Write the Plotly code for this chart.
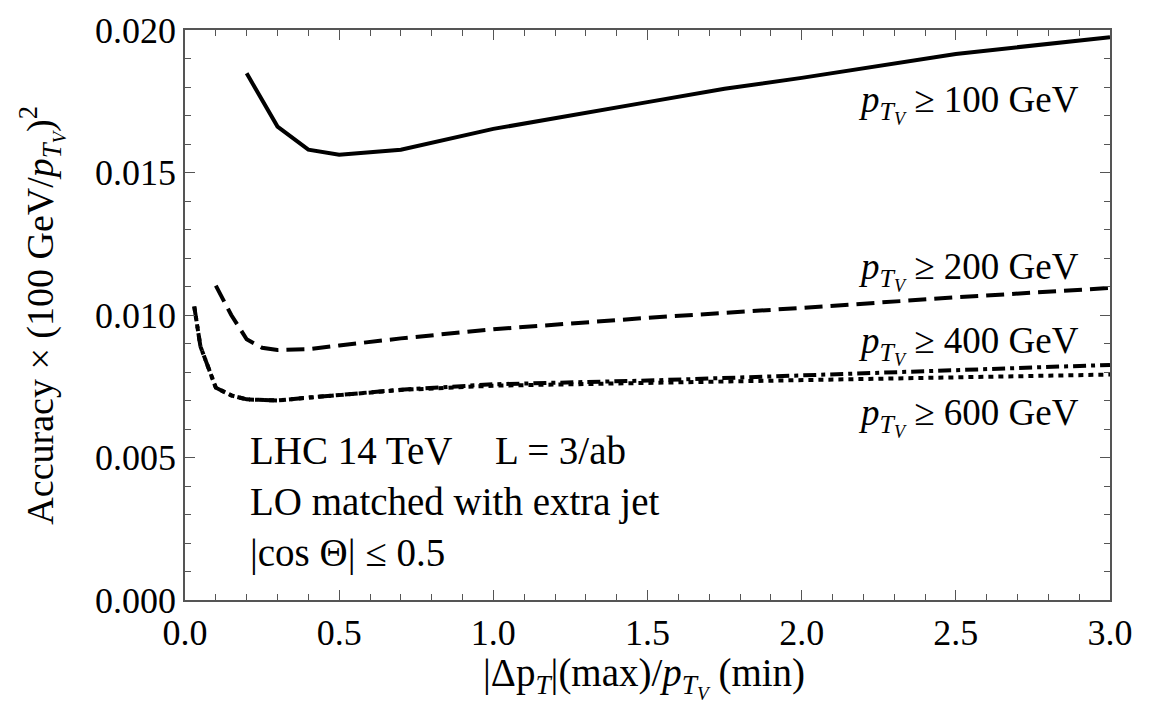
import plotly.graph_objects as go

# Data
x100 = [0.2, 0.3, 0.4, 0.5, 0.7, 1.0, 1.5, 1.75, 2.0, 2.5, 3.0]
y100 = [0.01848, 0.01661, 0.01580, 0.01562, 0.01580, 0.01653, 0.01747, 0.01794, 0.01832, 0.01916, 0.01975]

x200 = [0.1, 0.15, 0.2, 0.25, 0.3, 0.4, 0.5, 0.7, 1.0, 1.5, 2.0, 2.5, 3.0]
y200 = [0.01103, 0.01000, 0.00915, 0.00885, 0.00877, 0.00880, 0.00893, 0.00918, 0.00950, 0.00990, 0.01025, 0.01062, 0.01095]

x400 = [0.03, 0.05, 0.1, 0.15, 0.2, 0.3, 0.4, 0.5, 0.7, 1.0, 1.5, 2.0, 2.5, 3.0]
y400 = [0.01030, 0.00890, 0.00745, 0.00718, 0.00704, 0.00700, 0.00710, 0.00720, 0.00738, 0.00757, 0.00770, 0.00788, 0.00806, 0.00825]

x600 = [0.03, 0.05, 0.1, 0.15, 0.2, 0.3, 0.4, 0.5, 0.7, 1.0, 1.5, 2.0, 2.5, 3.0]
y600 = [0.01030, 0.00890, 0.00745, 0.00718, 0.00704, 0.00700, 0.00710, 0.00720, 0.00737, 0.00752, 0.00761, 0.00771, 0.00781, 0.00791]

series_labels = ["100", "200", "400", "600"]
x_ticks = [0.0, 0.5, 1.0, 1.5, 2.0, 2.5, 3.0]
y_ticks = [0.000, 0.005, 0.010, 0.015, 0.020]

FONT = "Liberation Serif, 'Times New Roman', Times, DejaVu Serif, serif"
PTV = "<i>p</i><sub><i>T</i><sub><i>V</i></sub></sub>"

fig = go.Figure()
styles = [
    (x100, y100, "solid"),
    (x200, y200, "18px,8px"),
    (x400, y400, "13px,5px,4px,5px"),
    (x600, y600, "5px,5px"),
]
for (xs, ys, dash), lab in zip(styles, series_labels):
    fig.add_trace(go.Scatter(x=xs, y=ys, mode="lines", name=lab,
                             line=dict(color="black", width=4, dash=dash),
                             showlegend=False))

axis_common = dict(
    showgrid=False, zeroline=False, showline=True, linecolor="#555", linewidth=1.5,
    mirror="ticks", ticks="inside", ticklen=10, tickwidth=1.2, tickcolor="#555",
    tickfont=dict(family=FONT, size=36, color="black"),
)
fig.update_xaxes(range=[0, 3.0], tickvals=x_ticks, tickformat=".1f",
                 minor=dict(dtick=0.1, ticks="inside", ticklen=6, tickcolor="#555", tickwidth=1.2),
                 **axis_common)
fig.update_yaxes(range=[0, 0.020], tickvals=y_ticks, tickformat=".3f",
                 minor=dict(dtick=0.001, ticks="inside", ticklen=6, tickcolor="#555", tickwidth=1.2),
                 **axis_common)

# Axis titles as annotations for precise placement
fig.add_annotation(x=0.496, y=-0.136, xref="paper", yref="paper",
                   text="|Δp<sub><i>T</i></sub>|(max)/" + PTV + " (min)",
                   showarrow=False, xanchor="center", yanchor="middle",
                   font=dict(family=FONT, size=39, color="black"))
fig.add_annotation(x=-0.155, y=0.5, xref="paper", yref="paper",
                   text="Accuracy × (100 GeV/" + PTV + ")<sup>2</sup>",
                   showarrow=False, xanchor="center", yanchor="middle", textangle=-90,
                   font=dict(family=FONT, size=38, color="black"))

def ann(x, y, text, xanchor, size):
    fig.add_annotation(x=x, y=y, xref="x", yref="y", text=text, showarrow=False,
                       xanchor=xanchor, yanchor="middle",
                       font=dict(family=FONT, size=size, color="black"))

ann(2.906, 0.01742, PTV + " ≥ 100 GeV", "right", 37)
ann(2.906, 0.01156, PTV + " ≥ 200 GeV", "right", 37)
ann(2.906, 0.00895, PTV + " ≥ 400 GeV", "right", 37)
ann(2.906, 0.00642, PTV + " ≥ 600 GeV", "right", 37)
ann(0.204, 0.00523, "LHC 14 TeV", "left", 39)
ann(0.998, 0.00523, "L = 3/ab", "left", 39)
ann(0.204, 0.00344, "LO matched with extra jet", "left", 39)
ann(0.204, 0.00165, "|cos Θ| ≤ 0.5", "left", 39)

fig.update_layout(
    width=1165, height=705,
    margin=dict(l=185, r=55, t=30, b=105),
    plot_bgcolor="white", paper_bgcolor="white",
    font=dict(family=FONT, color="black"),
)

fig.write_html("out.html")
